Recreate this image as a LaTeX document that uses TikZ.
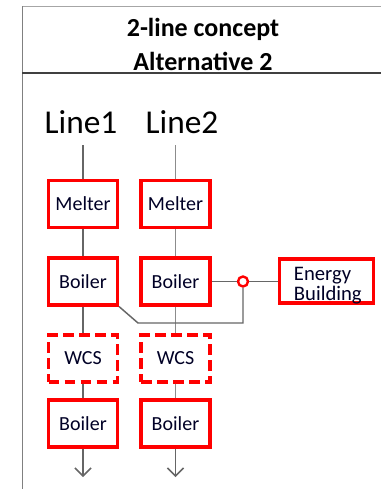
\documentclass[tikz,border=0pt]{standalone}
\usepackage{fontspec}
\setmainfont{Carlito}
\usetikzlibrary{arrows.meta}
\begin{document}
\begin{tikzpicture}[x=0.75pt, y=-0.75pt,
block/.style={draw=red, line width=2.4pt, fill=white, minimum width=51.75pt, minimum height=35.25pt, inner sep=0pt, text=black!75!blue!60!black, font=\fontsize{15}{17}\selectfont},
dashblock/.style={block, dash pattern=on 8pt off 4pt},
pipe/.style={draw=black!60, line width=1.1pt},
arrow/.style={pipe, -{Straight Barb[length=6pt, width=12pt]}},
frame/.style={draw=black!50, line width=1.4pt}
]
\useasboundingbox (0,0) rectangle (381,489);
% table cell
\draw[frame, draw=black!35] (22,6.5) -- (381,6.5);
\draw[frame] (22.5,6) -- (22.5,489);
\draw[frame, draw=black!75, line width=1.1pt] (22,73) -- (381,73);
\node[font=\bfseries\fontsize{19.5}{25.5}\selectfont, align=center] (title) at (203,44) {2-line concept\\Alternative 2};
\node[font=\fontsize{25}{30}\selectfont] (line1) at (81,122) {Line1};
\node[font=\fontsize{25}{30}\selectfont] (line2) at (182,122) {Line2};
\coordinate (topA) at (83,145);
\coordinate (topB) at (175.5,145);
\node[block] (melterA) at (83,204) {Melter};
\node[block] (melterB) at (175.5,204) {Melter};
\node[block] (boilerA) at (83,281.5) {Boiler};
\node[block] (boilerB) at (175.5,281.5) {Boiler};
\node[dashblock] (wcsA) at (83,358.5) {WCS};
\node[dashblock] (wcsB) at (175.5,358.5) {WCS};
\node[block] (boilerC) at (83,423.5) {Boiler};
\node[block] (boilerD) at (175.5,423.5) {Boiler};
\coordinate (endA) at (83,477);
\coordinate (endB) at (175.5,477);
\node[draw=red, circle, line width=1.8pt, minimum size=7.5pt, inner sep=0pt] (valve) at (243,281.5) {};
\node[block, minimum width=70.5pt, minimum height=33pt,
  label={[font=\fontsize{15.5}{15}\selectfont, align=left, text=black!75!blue!60!black, yshift=-3.5pt, xshift=1pt]center:Energy\\Building}] (energy) at (326.5,281) {};
\coordinate (bend) at (138,323);
% line 1
\draw[pipe] (topA) -- (melterA);
\draw[pipe] (melterA) -- (boilerA);
\draw[pipe] (boilerA) -- (wcsA);
\draw[pipe] (wcsA) -- (boilerC);
\draw[arrow] (boilerC) -- (endA);
% line 2
\draw[pipe, draw=black!45] (topB) -- (melterB);
\draw[pipe, draw=black!45] (melterB) -- (boilerB);
\draw[pipe, draw=black!45] (boilerB) -- (wcsB);
\draw[pipe, draw=black!45] (wcsB) -- (boilerD);
\draw[arrow] (boilerD) -- (endB);
% energy
\draw[pipe] (boilerB) -- (valve);
\draw[pipe] (valve) -- (valve -| energy.west);
\draw[pipe] (valve) |- (bend) -- (boilerA.south east);
\end{tikzpicture}
\end{document}
